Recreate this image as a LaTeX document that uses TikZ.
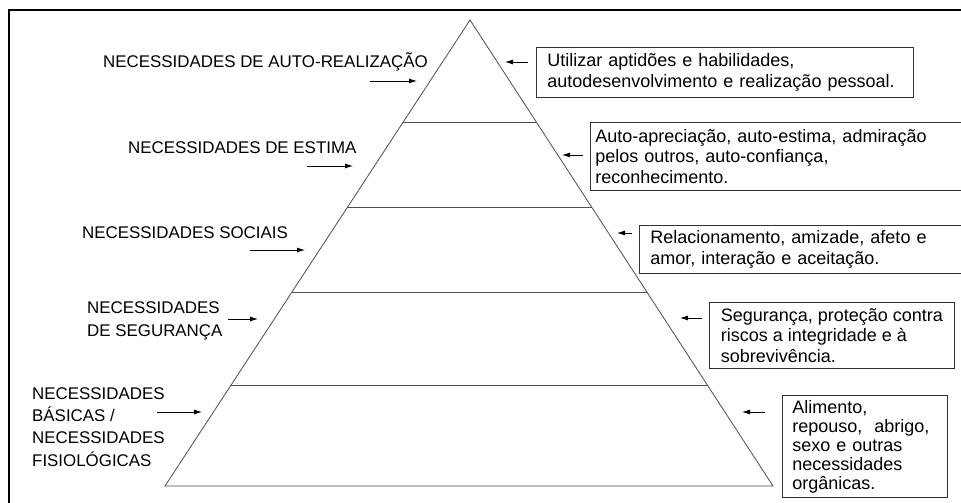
\documentclass[tikz,border=0pt]{standalone}
\usepackage{fontspec}
\setmainfont{Liberation Sans}
\usetikzlibrary{arrows.meta,calc,positioning}

\begin{document}
\begin{tikzpicture}[x=1pt,y=-1pt,
		level/.style={draw=black!70,line width=0.8pt},
		need/.style={inner sep=0pt,anchor=west,align=left,font=\fontsize{16.9}{22.3}\selectfont},
		desc/.style={draw=black!80,line width=0.8pt,anchor=north west,align=left,inner xsep=11pt,inner ysep=0pt,font=\fontsize{18}{20.5}\selectfont},
		pointer/.style={-{Latex[length=8pt,width=5pt]},line width=0.8pt}]

	\useasboundingbox (0,0) rectangle (961,503);
	\clip (0,0) rectangle (961,503);
	\draw[line width=2.5pt] (9,10) rectangle (990,530);

	% pyramid and its levels
	\coordinate (apex) at (470,20);
	\coordinate (bl) at (165,486);
	\coordinate (br) at (773,486);
	\draw[level] (apex) -- (bl) -- (br) -- cycle;
	\foreach \t in {0.219,0.403,0.584,0.785}
		\draw[level] ($(apex)!\t!(bl)$) -- ($(apex)!\t!(br)$);

	% needs on the left
	\node[need] (self) at (103,62) {NECESSIDADES DE AUTO-REALIZAÇÃO};
	\node[need] (esteem) at (128,148) {NECESSIDADES DE ESTIMA};
	\node[need] (social) at (82,233) {NECESSIDADES SOCIAIS};
	\node[need] (safety) at (87,321) {NECESSIDADES\\DE SEGURANÇA};
	\node[need] (basic) at (32,427) {NECESSIDADES\\BÁSICAS /\\NECESSIDADES\\FISIOLÓGICAS};

	\coordinate (selfs) at (370,81);   \coordinate (selfe) at (417,81);
	\coordinate (esteems) at (307,166); \coordinate (esteeme) at (353,166);
	\coordinate (socials) at (250,250); \coordinate (sociale) at (305,250);
	\coordinate (safetys) at (228,319); \coordinate (safetye) at (258,319);
	\coordinate (basics) at (157,412); \coordinate (basice) at (202,412);
	\foreach \n in {self,esteem,social,safety,basic}
		\draw[pointer] (\n s) -- (\n e);

	% descriptions on the right
	\node[desc,minimum width=377pt,minimum height=50pt,text width=355pt] (selfbox) at (536,47)
		{Utilizar aptidões e habilidades,\\autodesenvolvimento e realização pessoal.};
	\node[desc,inner xsep=5pt,minimum height=68pt,text width=390pt] (esteembox) at (590,122)
		{Auto-apreciação, auto-estima, admiração\\pelos outros, auto-confiança,\\reconhecimento.};
	\node[desc,minimum height=48pt,text width=330pt] (socialbox) at (639,225)
		{Relacionamento, amizade, afeto e\\amor, interação e aceitação.};
	\node[desc,minimum width=245pt,minimum height=66pt] (safetybox) at (709,302)
		{Segurança, proteção contra\\riscos a integridade e à\\sobrevivência.};
	\node[desc,inner xsep=10pt,minimum height=102pt,text width=145pt,font=\fontsize{18}{19}\selectfont] (basicbox) at (782,395)
		{Alimento,\\repouso,\ \ abrigo,\\sexo e outras\\necessidades\\orgânicas.};

	\coordinate (selfbs) at (528,62);   \coordinate (selfbe) at (505,62);
	\coordinate (esteembs) at (583,155); \coordinate (esteembe) at (562,155);
	\coordinate (socialbs) at (632,233); \coordinate (socialbe) at (617,233);
	\coordinate (safetybs) at (702,318); \coordinate (safetybe) at (680,318);
	\coordinate (basicbs) at (765,412); \coordinate (basicbe) at (742,412);
	\foreach \n in {self,esteem,social,safety,basic}
		\draw[pointer] (\n bs) -- (\n be);
\end{tikzpicture}
\end{document}
